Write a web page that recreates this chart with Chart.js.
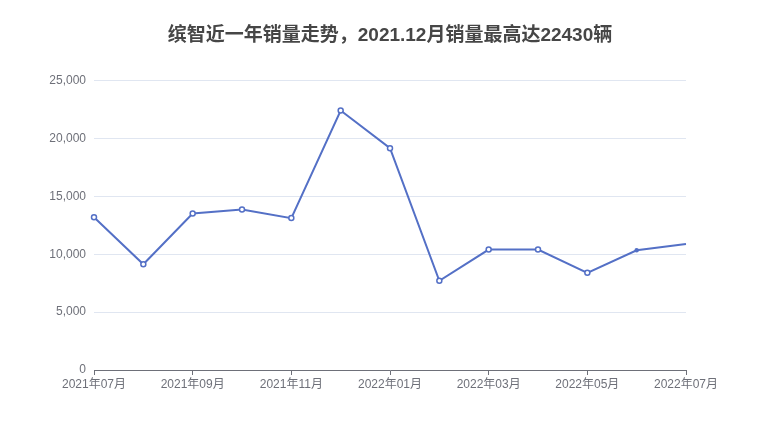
<!DOCTYPE html>
<html>
<head>
<meta charset="utf-8">
<script src="https://cdn.jsdelivr.net/npm/chart.js@4/dist/chart.umd.min.js"></script>
<style>
  html, body { margin: 0; padding: 0; background: #fff; }
  #wrap { width: 780px; height: 440px; }
</style>
</head>
<body>
<div id="wrap"><canvas id="chart"></canvas></div>
<script>
// monthly sales of the Vezel-class model
const months = ['2021年07月', '2021年08月', '2021年09月', '2021年10月', '2021年11月', '2021年12月',
    '2022年01月', '2022年02月', '2022年03月', '2022年04月', '2022年05月', '2022年06月', '2022年07月'];
const sales = [13200, 9140, 13530, 13880, 13130, 22430, 19170, 7710, 10410, 10410, 8400, 10350, 10900];
const yTicks = [0, 5000, 10000, 15000, 20000, 25000];

const titleText = '缤智近一年销量走势，2021.12月销量最高达22430辆';
const fontFamily = '"Liberation Sans", "Noto Sans CJK SC", sans-serif';
const lineColor = '#5470c6';
const axisColor = '#6e7079';

const ctx = document.getElementById('chart').getContext('2d');

new Chart(ctx, {
    type: 'line',
    data: {
        labels: months,
        datasets: [{
            data: sales,
            borderColor: lineColor,
            borderWidth: 2,
            tension: 0,
            fill: false,
            pointBackgroundColor: (c) => c.dataIndex === 11 ? lineColor : '#fff',
            pointBorderColor: lineColor,
            pointBorderWidth: 1.5,
            pointRadius: (c) => c.dataIndex === 12 ? 0 : (c.dataIndex === 11 ? 1.5 : 2.5),
        }]
    },
    options: {
        responsive: true,
        maintainAspectRatio: false,
        animation: false,
        layout: { padding: 0 },
        scales: {
            x: {
                offset: false,
                afterFit: (s) => { s.height = 70; },
                border: { display: true, color: axisColor, width: 1 },
                grid: {
                    drawOnChartArea: false,
                    drawTicks: true,
                    tickLength: 5,
                    tickColor: (c) => (c.index % 2 === 0 ? axisColor : 'rgba(0,0,0,0)'),
                },
                ticks: {
                    autoSkip: false,
                    maxRotation: 0,
                    padding: 2,
                    color: axisColor,
                    font: { family: fontFamily, size: 12 },
                    callback: (v, i) => (i % 2 === 0 ? months[i] : ''),
                }
            },
            y: {
                min: yTicks[0],
                max: yTicks[yTicks.length - 1],
                afterFit: (s) => { s.width = 94; },
                afterBuildTicks: (s) => { s.ticks = yTicks.map(v => ({ value: v })); },
                border: { display: false },
                grid: { color: '#e0e6f1', drawTicks: false },
                ticks: {
                    padding: 8,
                    color: axisColor,
                    font: { family: fontFamily, size: 12 },
                    callback: (v) => v.toLocaleString('en-US'),
                }
            },
            // empty right axis, only keeps the plot symmetric so the title stays centred
            yRight: {
                position: 'right',
                min: yTicks[0],
                max: yTicks[yTicks.length - 1],
                afterFit: (s) => { s.width = 94; },
                border: { display: false },
                grid: { drawOnChartArea: false, drawTicks: false },
                ticks: { display: false },
            }
        },
        plugins: {
            legend: { display: false },
            tooltip: { enabled: false },
            title: {
                display: true,
                text: titleText,
                color: '#464646',
                font: { family: fontFamily, size: 19, weight: 'bold' },
                padding: { top: 24, bottom: 34 },
            }
        }
    }
});
</script>
</body>
</html>
